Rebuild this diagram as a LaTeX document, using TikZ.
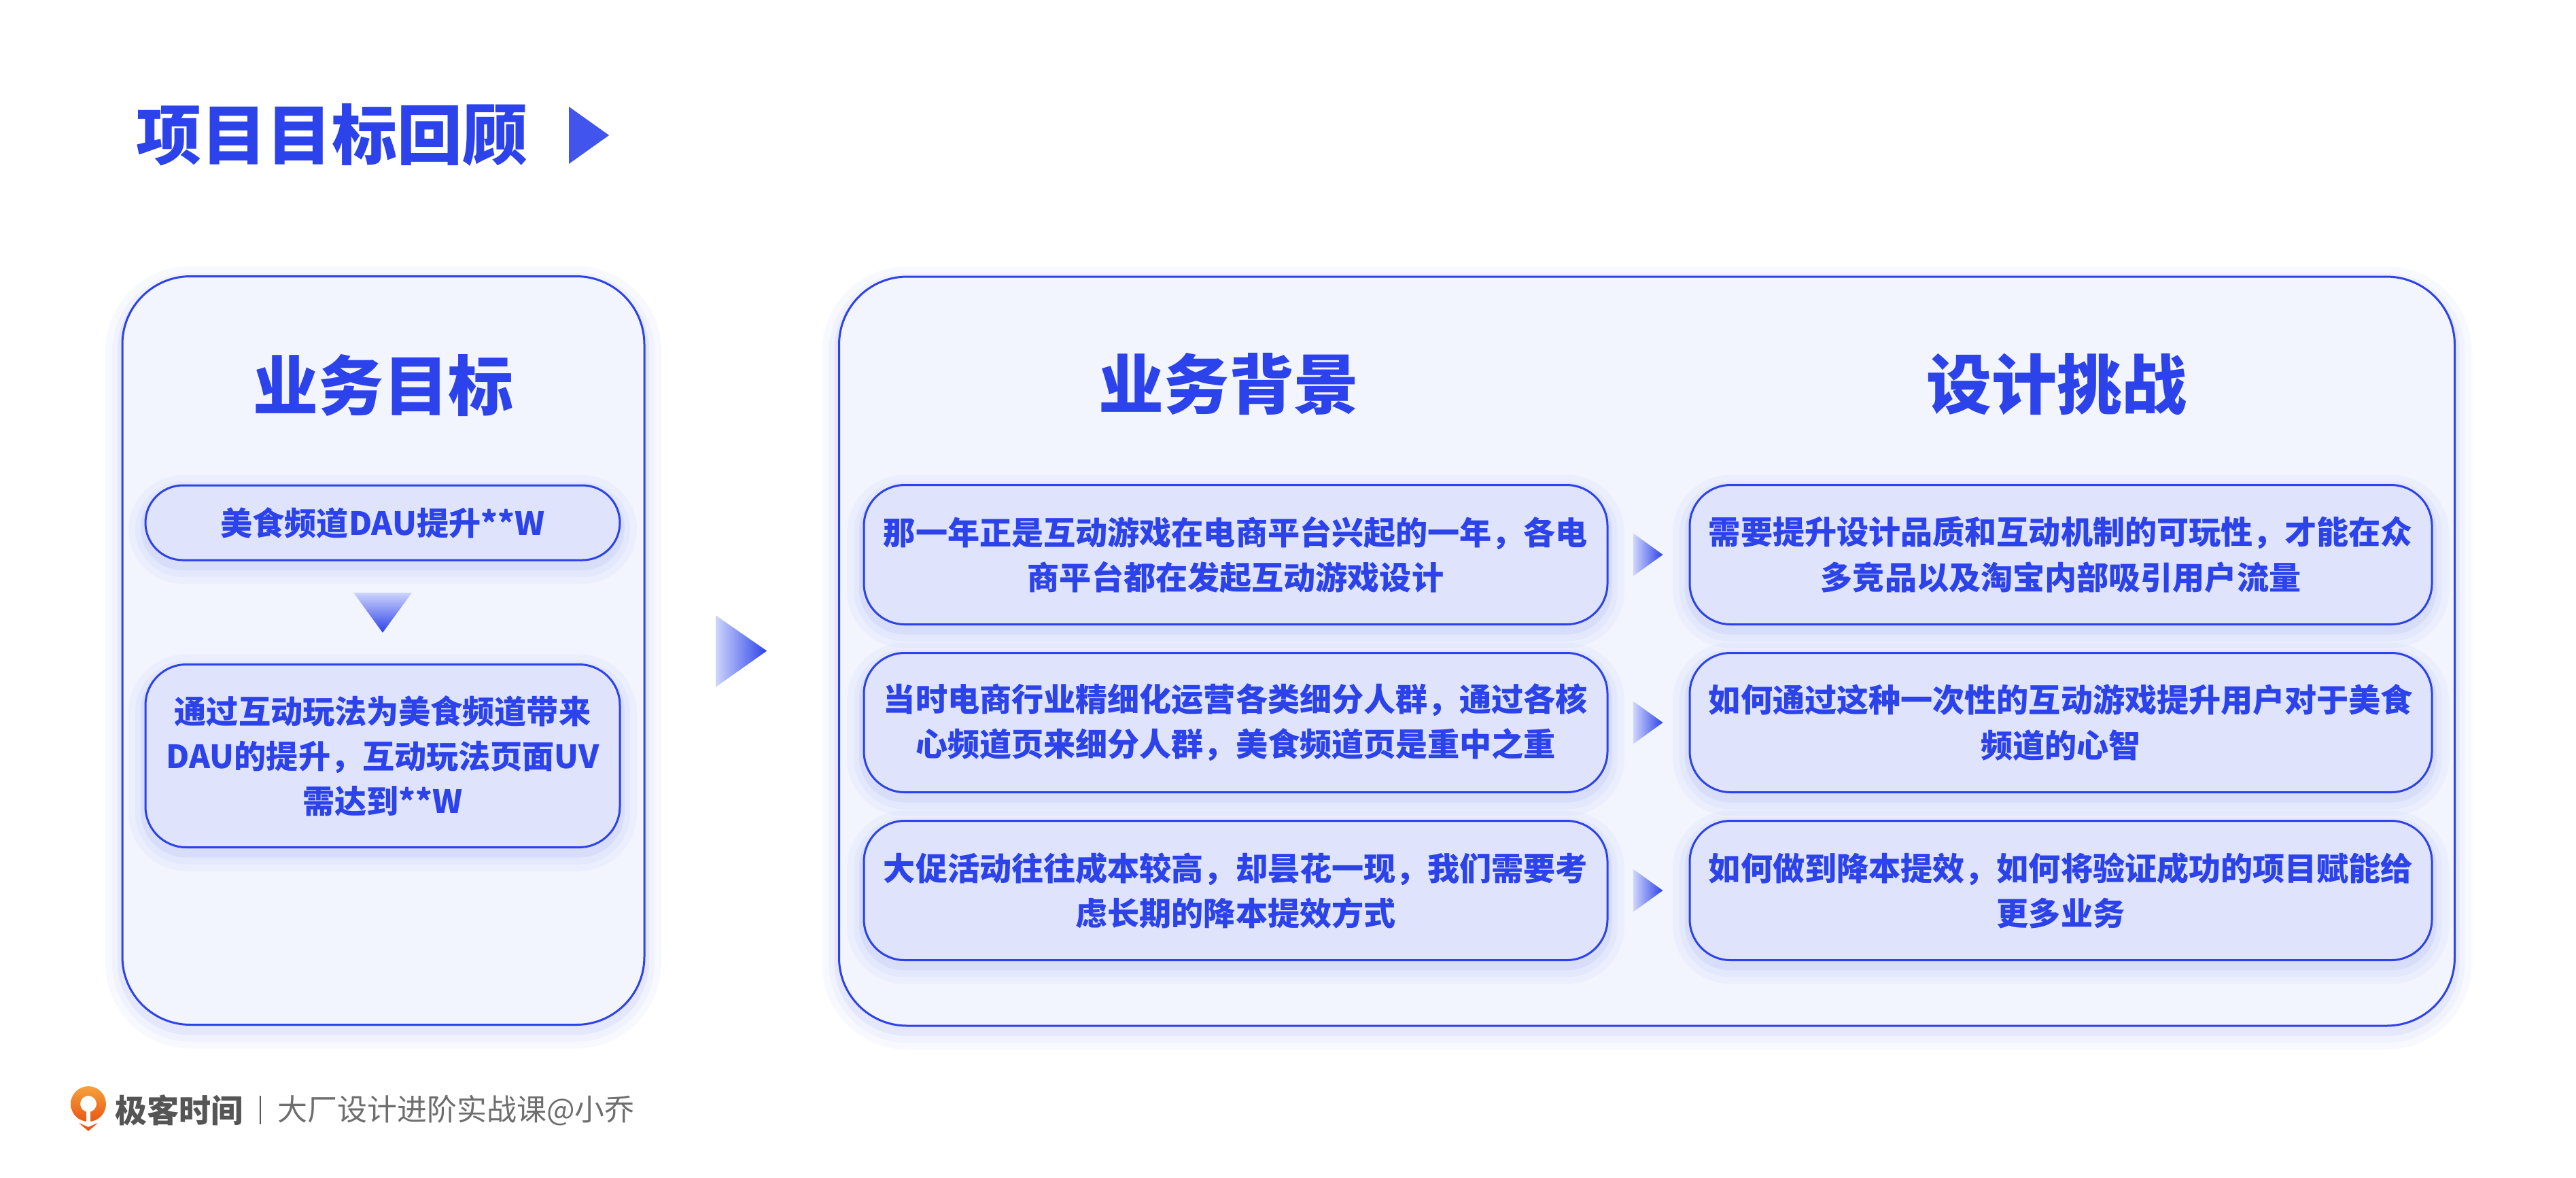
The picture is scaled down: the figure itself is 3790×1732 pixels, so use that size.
\documentclass[tikz,border=0pt]{standalone}
\usepackage{fontspec}
\setmainfont{Noto Sans CJK SC}
\usepackage{tikz}
\usetikzlibrary{calc}
\definecolor{mainblue}{RGB}{44,66,234}
\definecolor{paleblue}{RGB}{205,212,251}
\definecolor{panelfill}{RGB}{242,245,254}
\definecolor{cardfill}{RGB}{223,228,252}
\definecolor{footgray}{RGB}{85,85,85}
\definecolor{logoA}{RGB}{247,160,60}
\definecolor{logoB}{RGB}{233,88,18}
\tikzstyle{glow}=[preaction={fill=none,draw=mainblue,draw opacity=0.03,line width=5mm,transform canvas={yshift=-1mm}},
    preaction={fill=none,draw=mainblue,draw opacity=0.04,line width=3mm,transform canvas={yshift=-1mm}},
    preaction={fill=none,draw=mainblue,draw opacity=0.06,line width=1.4mm,transform canvas={yshift=-0.8mm}}]
\tikzstyle{panel}=[draw=mainblue,line width=0.3mm,fill=panelfill,rounded corners=10mm,glow]
\tikzstyle{card}=[draw=mainblue,line width=0.3mm,fill=cardfill,rounded corners=6mm,text=mainblue,inner sep=0pt,align=center,glow,font=\bfseries\fontsize{13.4pt}{18.8pt}\selectfont]
\tikzstyle{heading}=[text=mainblue,inner sep=0pt,font=\bfseries\fontsize{27.3pt}{30pt}\selectfont]
\tikzstyle{pointer}=[left color=paleblue,right color=mainblue]
\tikzstyle{pointer down}=[top color=paleblue,bottom color=mainblue]

\begin{document}
\begin{tikzpicture}[x=0.1mm,y=-0.1mm]
    \useasboundingbox (0,0) rectangle (3790,1732);
    % title
    \node[heading,anchor=west] (title) at (200,199) {项目目标回顾};
    \fill[mainblue!90!white] ($(title.east)+(60,-42)$) -- ++(59,42) -- ++(-59,42) -- cycle;
    % panels
    \node[panel,minimum width=76.8mm,minimum height=110.1mm] (goal) at (564,957) {};
    \node[panel,minimum width=237.7mm,minimum height=110.2mm] (bg) at (2423,958) {};
    \foreach \pos/\name/\text in {{(564,567)/goal-head/业务目标}, {(1808,565)/bg-head/业务背景}, {(3026,565)/ch-head/设计挑战}}
        \node[heading] (\name) at \pos {\text};
    % business goal
    \node[card,rounded corners=5.5mm,minimum width=69.8mm,minimum height=11mm] (goal-one) at (563,769) {美食频道DAU提升**W};
    \node[card,minimum width=69.8mm,minimum height=26.9mm] (goal-two) at (563,1112) {通过互动玩法为美食频道带来\\DAU的提升，互动玩法页面UV\\需达到**W};
    \shade[pointer down] ($(goal-one.south)!0.5!(goal-two.north)+(-43,-29)$) -- ++(86,0) -- ++(-43,59) -- cycle;
    \shade[pointer] ($(goal.east)!0.5!(bg.west)+(-38,-52)$) -- ++(75,52) -- ++(-75,53) -- cycle;
    % background / challenge rows
    \foreach \name/\y/\lefttext/\righttext in {
        one/816/{那一年正是互动游戏在电商平台兴起的一年，各电\\商平台都在发起互动游戏设计}/{需要提升设计品质和互动机制的可玩性，才能在众\\多竞品以及淘宝内部吸引用户流量},
        two/1063/{当时电商行业精细化运营各类细分人群，通过各核\\心频道页来细分人群，美食频道页是重中之重}/{如何通过这种一次性的互动游戏提升用户对于美食\\频道的心智},
        three/1310/{大促活动往往成本较高，却昙花一现，我们需要考\\虑长期的降本提效方式}/{如何做到降本提效，如何将验证成功的项目赋能给\\更多业务}}
    {
        \node[card,minimum width=109.4mm,minimum height=20.5mm] (bg-\name) at (1818,\y) {\lefttext};
        \node[card,minimum width=109.2mm,minimum height=20.5mm] (ch-\name) at (3032,\y) {\righttext};
        \shade[pointer] ($(bg-\name.east)!0.5!(ch-\name.west)+(-22,-31)$) -- ++(43,31) -- ++(-43,31) -- cycle;
    }
    % footer
    \shade[top color=logoA,bottom color=logoB,even odd rule] (130,1624) circle (26) (130,1624) circle (12);
    \fill[white] (127,1624) rectangle (133,1652);
    \fill[logoB] (116,1652) -- (130,1658) -- (144,1652) -- (130,1664) -- cycle;
    \node[anchor=west,inner sep=0pt,text=footgray,font=\bfseries\fontsize{13.4pt}{15pt}\selectfont] (brand) at (169,1633) {极客时间};
    \coordinate (sep-top) at (383,1612);
    \coordinate (sep-bot) at (383,1654);
    \draw[footgray,line width=0.2mm] (sep-top) -- (sep-bot);
    \node[anchor=west,inner sep=0pt,text=footgray!85!white,font=\fontsize{12.5pt}{14pt}\selectfont] (course) at (408,1634) {大厂设计进阶实战课@小乔};
\end{tikzpicture}
\end{document}
